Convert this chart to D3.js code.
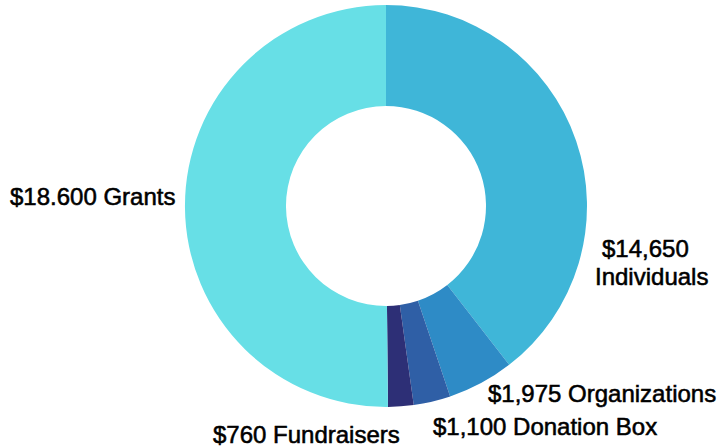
<!DOCTYPE html>
<html>
<head>
<meta charset="utf-8">
<script src="https://cdn.jsdelivr.net/npm/d3@7"></script>
<style>
  html, body { margin: 0; padding: 0; background: #ffffff; }
  svg { display: block; }
  text { font-family: "Liberation Sans", Arial, Helvetica, sans-serif; font-size: 24px; fill: #000; stroke: #000; stroke-width: 0.55px; }
</style>
</head>
<body>
<svg id="chart" width="722" height="448"></svg>
<script>
// Data (clockwise from 12 o'clock)
const categories = ["Individuals", "Organizations", "Donation Box", "Fundraisers", "Grants"];
const values = [14650, 1975, 1100, 760, 18600];
const valueLabels = ["$14,650", "$1,975", "$1,100", "$760", "$18.600"];
const colors = ["#3fb6d8", "#2e8bc6", "#2f5fa6", "#2d2f76", "#67dfe6"];

// Layout
const width = 722, height = 448;
const cx = 386, cy = 206, outerR = 201, innerR = 100;

const svg = d3.select("#chart");
const g = svg.append("g").attr("transform", `translate(${cx},${cy})`);

const data = categories.map((c, i) => ({ category: c, value: values[i], label: valueLabels[i], color: colors[i] }));

const pie = d3.pie().value(d => d.value).sort(null);
const arc = d3.arc().innerRadius(innerR).outerRadius(outerR);

g.selectAll("path.slice")
  .data(pie(data))
  .join("path")
  .attr("class", "slice")
  .attr("d", arc)
  .attr("fill", d => d.data.color);

// Label placement (layout only), svg coords
const labelLayout = {
  "Individuals":   [{ x: 602, y: 257, t: d => d.label }, { x: 595, y: 285, t: d => d.category }],
  "Organizations": [{ x: 488, y: 402, t: d => d.label + " " + d.category }],
  "Donation Box":  [{ x: 433, y: 435, t: d => d.label + " " + d.category }],
  "Fundraisers":   [{ x: 213, y: 443, t: d => d.label + " " + d.category }],
  "Grants":        [{ x: 10,  y: 205, t: d => d.label + " " + d.category }]
};

data.forEach(d => {
  labelLayout[d.category].forEach(l => {
    svg.append("text")
      .attr("x", l.x)
      .attr("y", l.y)
      .text(l.t(d));
  });
});
</script>
</body>
</html>
